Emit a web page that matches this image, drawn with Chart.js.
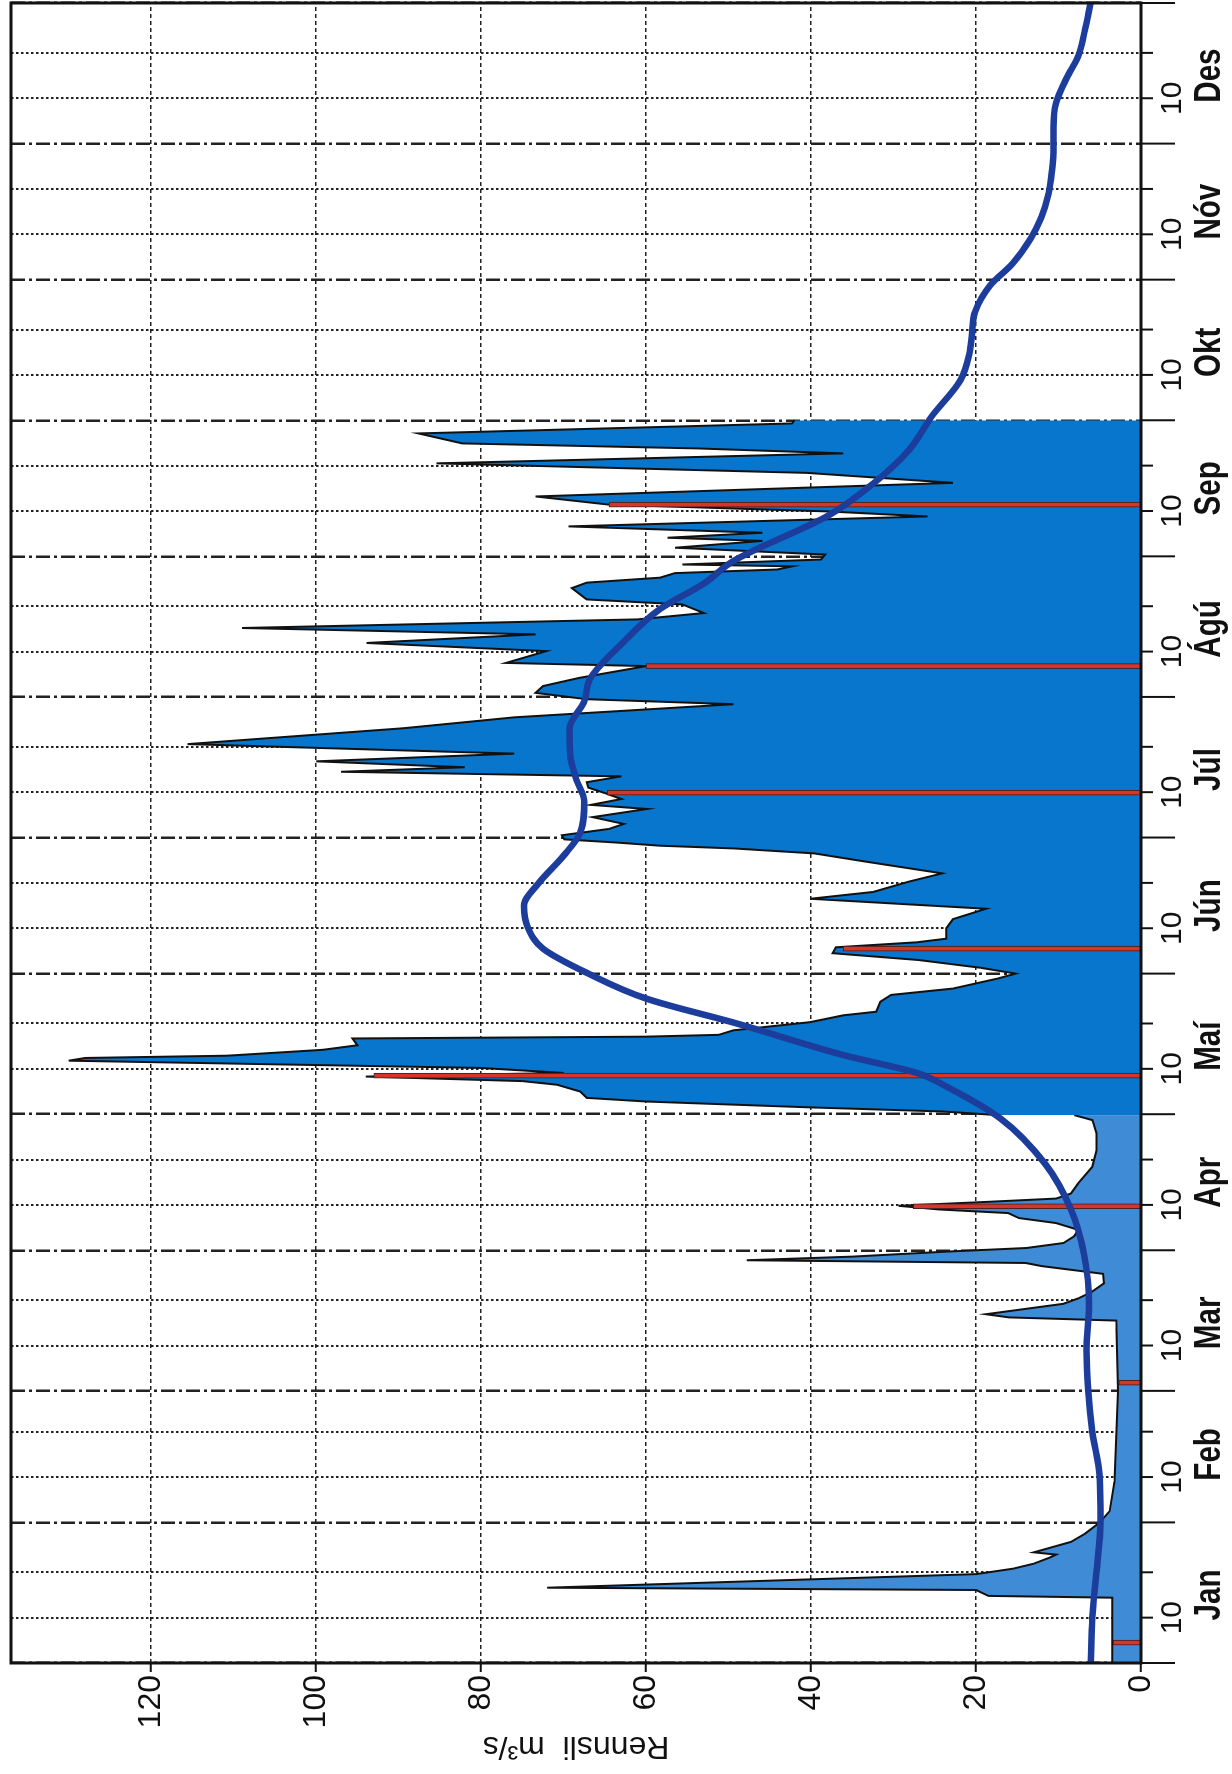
<!DOCTYPE html>
<html>
<head>
<meta charset="utf-8">
<script src="https://cdn.jsdelivr.net/npm/chart.js@4.4.0/dist/chart.umd.min.js"></script>
<style>
  html, body { margin: 0; padding: 0; background: #fff; overflow: hidden; }
  #wrap {
    position: absolute; left: 0; top: 0; width: 1774px; height: 1232px;
    transform-origin: 0 0; transform: translate(0, 1774px) rotate(-90deg);
  }
</style>
</head>
<body>
<div id="wrap"><canvas id="flowChart" width="1774" height="1232"></canvas></div>
<script>
// day of a leap year (Jan 1 = 0) and discharge in m3/s
const monthStarts = [0, 31, 60, 91, 121, 152, 182, 213, 244, 274, 305, 335, 366];
const monthNames = ["Jan", "Feb", "Mar", "Apr", "Maí", "Jún", "Júl", "Ágú", "Sep", "Okt", "Nóv", "Des"];
const yTicks = [0, 20, 40, 60, 80, 100, 120];

// measured flow Jan-Apr
const winterDays = [0, 14.4, 14.8, 16.1, 16.6, 19.6, 20.8, 21.9, 23.3, 23.9, 24.4, 26.7, 28.5, 31, 33.5,
  40, 50, 60, 75.5, 76.2, 76.9, 78.1, 79.2, 80.4, 81.8, 83.7, 85.8, 87.5, 88.2, 88.8, 89.6, 90.7, 91.5,
  92.6, 94.1, 95.5, 97, 98.1, 99.2, 100, 100.8, 101.7, 102.4, 103.5, 105.8, 109.4, 113, 116.8, 119.7, 120.8];
const winterFlow = [3.5, 3.5, 18.5, 20, 72, 20, 15.5, 13, 11, 10.3, 13, 8.5, 6.8, 5, 3.8,
  3.2, 3.0, 2.8, 3.0, 16, 18.8, 13.9, 9.4, 7.6, 6.0, 4.5, 4.6, 12, 14, 47.8, 35, 23.6, 13.9,
  9.4, 8.1, 7.6, 10.3, 14.8, 16.1, 24.5, 29.4, 18.3, 10.3, 8.5, 7.6, 5.9, 5.4, 5.4, 5.9, 8.1];

// measured flow May-Sep
const summerDays = [120.8, 121.6, 122.5, 123.8, 124.6, 126, 127.5, 128.3, 129.3, 130.1, 131.2, 132.8, 133.4,
  133.9, 135.2, 136.2, 137.7, 138.1, 138.5, 139.5, 141.3, 142.8, 143.6, 145.8, 147.3, 148.7, 150.9, 152,
  153.3, 155, 156.5, 157.8, 158.9, 159.7, 162, 164, 166.3, 168.5, 170, 172.3, 174.1, 176.7, 178.5, 179.6,
  180.2, 180.9, 181.6, 182.5, 183.9, 185, 186.5, 188.3, 189.2, 190.5, 191.8, 193, 194.2, 195.5, 196.5,
  197.5, 198.8, 200.5, 202.6, 206.1, 208.5, 211.4, 212.5, 213.9, 215.4, 217.2, 219.8, 220.5, 223.1, 224.9,
  226.8, 228.2, 230.1, 231.5, 233.4, 234.5, 237, 238.2, 239.3, 240.3, 241.1, 241.8, 242.2, 243.3, 244.4,
  245.9, 247.4, 248.1, 249.2, 250.6, 252.8, 253.9, 255.4, 257.2, 260.2, 262.4, 264.5, 266.7, 267.8, 268.9,
  271.1, 273.3, 274];
const summerFlow = [17.4, 24, 40, 60, 67.2, 68, 70.8, 75, 94, 70, 80, 130, 128,
  110.8, 99.2, 95, 95.6, 60, 51.2, 49.4, 40.1, 36.1, 32.1, 31.6, 30.3, 22.8, 17.4, 15.2,
  19.5, 27, 37.4, 37, 27.2, 23.6, 23.6, 22.8, 18.8, 40.1, 32.5, 28.1, 24.1, 33.4, 39.6, 49.4,
  58.3, 63.6, 69.9, 70.2, 64.5, 62.7, 66.5, 59.9, 66.7, 63, 65, 67, 67.2, 63, 97,
  82, 100, 76, 115.6, 89.4, 76, 49.4, 67.2, 73.4, 72.5, 68.1, 60, 77, 72.1, 93.9,
  73.4, 109, 61, 53, 55.6, 67.2, 69, 67.2, 58.3, 56.5, 44.1, 42.3, 55.6, 38.8, 38.3,
  56.5, 45.9, 57.4, 45.9, 69.4, 25.9, 37.9, 64.5, 73.4, 22.8, 40.5, 85.4, 36.1, 53.9, 82.3,
  87.6, 42.3, 42];

// long term mean
const avgDays = [0, 10, 20, 31, 41, 51, 60, 69, 79, 90, 100, 110, 120, 127, 130, 134, 141, 146.5, 152,
  157.5, 162, 167, 172, 178, 183, 190, 195, 200, 206, 212, 217, 225, 232.4, 238, 243, 253, 260, 267.5,
  274.8, 282.8, 288.7, 293, 298, 303.7, 308.5, 314, 318.7, 324, 329, 334, 338.5, 344, 349.5, 354.3, 360, 366];
const avgFlow = [6.1, 5.9, 5.4, 4.9, 5.0, 5.9, 6.4, 6.6, 6.3, 6.9, 8.5, 11.6, 17, 23.5, 27, 36, 49, 60, 67,
  72.5, 74.3, 74.8, 73, 70, 68, 67.5, 68.5, 69.2, 69.3, 67.5, 66.8, 62.8, 58.3, 53, 49.4, 37.9, 32.5, 28.1,
  25.4, 21.9, 20.8, 20.5, 20.1, 18.3, 15.6, 13.4, 12.1, 11.2, 10.8, 10.6, 10.6, 10.3, 9, 7.6, 6.8, 6.1];

// field measurements (red marks)
const sampleDays = [4.5, 61.8, 100.7, 129.5, 157.5, 191.9, 219.8, 255.4];
const sampleFlow = [3.4, 2.7, 27.6, 93, 36.1, 64.7, 60, 64.5];

const xTickValues = [];
const xTickLabels = [];
monthStarts.slice(0, 12).forEach((d) => {
  xTickValues.push(d, d + 10, d + 20);
  xTickLabels.push("", "10", "");
});
xTickValues.push(366);
xTickLabels.push("");

const toPoints = (xs, ys) => xs.map((x, i) => ({ x: x, y: ys[i] }));
const isMonthStart = (c) => !!c.tick && monthStarts.includes(c.tick.value);
const FONT = "'Liberation Sans', Arial, sans-serif";

const framePlugin = {
  id: "frame",
  afterDraw(chart) {
    const { ctx, chartArea: a } = chart;
    const x = chart.scales.x;
    ctx.save();
    ctx.strokeStyle = "#111";
    ctx.lineWidth = 2;
    xTickValues.forEach((v) => {
      const px = x.getPixelForValue(v);
      const len = monthStarts.includes(v) ? 34 : 12;
      ctx.beginPath();
      ctx.moveTo(px, a.bottom);
      ctx.lineTo(px, a.bottom + len);
      ctx.stroke();
    });
    // month names, squeezed to look like a condensed face
    ctx.fillStyle = "#111";
    ctx.font = "bold 37px " + FONT;
    ctx.textAlign = "center";
    ctx.textBaseline = "alphabetic";
    monthNames.forEach((m, i) => {
      ctx.save();
      ctx.translate(x.getPixelForValue(monthStarts[i] + 15), 1220);
      ctx.scale(0.8, 1);
      ctx.fillText(m, 0, 0);
      ctx.restore();
    });
    ctx.lineWidth = 3;
    ctx.strokeRect(a.left, a.top, a.right - a.left, a.bottom - a.top);
    ctx.restore();
  },
};

const ctx = document.getElementById("flowChart").getContext("2d");

const flowChart = new Chart(ctx, {
  type: "line",
  data: {
    datasets: [
      {
        label: "Meðalrennsli",
        data: toPoints(avgDays, avgFlow),
        borderColor: "#1c3d9c",
        borderWidth: 6.5,
        pointRadius: 0,
        cubicInterpolationMode: "monotone",
        fill: false,
        order: 0,
      },
      {
        type: "bar",
        label: "Mælingar",
        data: toPoints(sampleDays, sampleFlow),
        backgroundColor: "#d8352a",
        borderColor: "#3a2222",
        borderWidth: 1,
        borderSkipped: "bottom",
        barThickness: 5,
        grouped: false,
        order: 1,
      },
      {
        label: "Rennsli maí-sep",
        data: toPoints(summerDays, summerFlow),
        borderColor: "#111",
        borderWidth: 2,
        backgroundColor: "#0876cc",
        fill: "origin",
        pointRadius: 0,
        tension: 0,
        order: 2,
      },
      {
        label: "Rennsli jan-apr",
        data: toPoints(winterDays, winterFlow),
        borderColor: "#111",
        borderWidth: 2,
        backgroundColor: "#408bd6",
        fill: "origin",
        pointRadius: 0,
        tension: 0,
        order: 3,
      },
    ],
  },
  options: {
    responsive: false,
    animation: false,
    devicePixelRatio: 1,
    layout: { padding: { top: 11, right: 3, left: 0, bottom: 0 } },
    plugins: {
      legend: { display: false },
      tooltip: { enabled: false },
    },
    scales: {
      x: {
        type: "linear",
        min: 0,
        max: 366,
        offset: false,
        afterBuildTicks: (s) => {
          s.ticks = xTickValues.map((v) => ({ value: v }));
        },
        afterFit: (s) => {
          s.height = 91;
          s.paddingLeft = 0;
          s.paddingRight = 0;
        },
        grid: {
          offset: false,
          color: "#222",
          lineWidth: (c) => (isMonthStart(c) ? 2.5 : 2),
          drawTicks: false,
        },
        border: { display: false, dash: (c) => (isMonthStart(c) ? [14, 4, 3, 4] : [2.5, 2.5]) },
        ticks: {
          autoSkip: false,
          maxRotation: 0,
          padding: 14,
          color: "#111",
          font: { family: FONT, size: 30 },
          callback: (v, i) => xTickLabels[i],
        },
      },
      y: {
        min: 0,
        max: 137,
        afterBuildTicks: (s) => {
          s.ticks = yTicks.map((v) => ({ value: v }));
        },
        afterFit: (s) => {
          s.width = 111;
          s.paddingTop = 0;
          s.paddingBottom = 0;
        },
        grid: { color: "#222", lineWidth: 1.5, tickLength: 9, tickColor: "#111", tickWidth: 2 },
        border: { display: false, dash: [4, 3] },
        ticks: {
          padding: 3,
          color: "#111",
          font: { family: FONT, size: 32 },
          callback: (v) => String(v),
        },
        title: {
          display: true,
          text: "Rennsli  m³/s",
          color: "#111",
          font: { family: FONT, size: 32 },
          padding: { top: 9, bottom: 0 },
        },
      },
    },
  },
  plugins: [framePlugin],
});
</script>
</body>
</html>
